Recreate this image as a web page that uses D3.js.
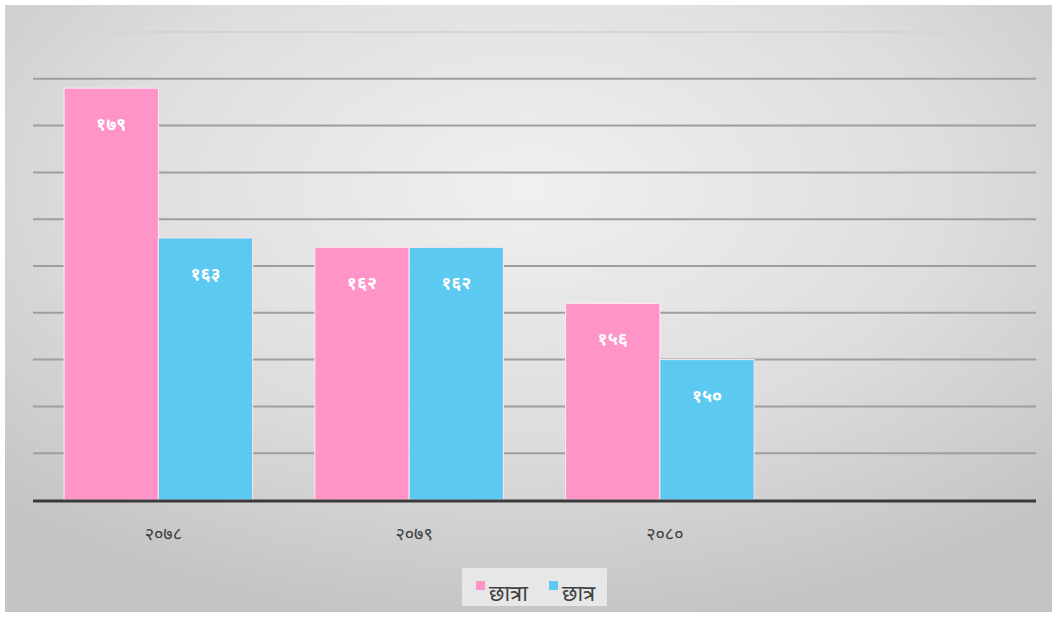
<!DOCTYPE html>
<html>
<head>
<meta charset="utf-8">
<script src="https://cdn.jsdelivr.net/npm/d3@7/dist/d3.min.js"></script>
<style>
html,body{margin:0;padding:0;background:#fff;}
svg{display:block;}
text{font-family:"Noto Sans Devanagari","Lohit Devanagari","Nirmala UI","Mangal","Noto Sans",sans-serif;}
</style>
</head>
<body>
<div id="chart"></div>
<script>
const categories = ["२०७८", "२०७९", "२०८०", ""];
const seriesNames = ["छात्रा", "छात्र"];
const girls = [179, 162, 156, null];
const boys = [163, 162, 150, null];
const girlsLabels = ["१७९", "१६२", "१५६", ""];
const boysLabels = ["१६३", "१६२", "१५०", ""];
const yTicks = [135, 140, 145, 150, 155, 160, 165, 170, 175, 180, 185];
const colors = ["#FF94C8", "#5CC9F1"];

const W = 1059, H = 618;
const svg = d3.select("#chart").append("svg").attr("width", W).attr("height", H);
const defs = svg.append("defs");
const grad = defs.append("radialGradient").attr("id", "bg")
  .attr("cx", "50%").attr("cy", "30%").attr("r", "72%");
grad.append("stop").attr("offset", "0%").attr("stop-color", "#f0f0f0");
grad.append("stop").attr("offset", "55%").attr("stop-color", "#dedede");
grad.append("stop").attr("offset", "100%").attr("stop-color", "#c4c4c4");

svg.append("rect").attr("x", 5).attr("y", 5).attr("width", 1047).attr("height", 607)
  .attr("fill", "url(#bg)");

const m = {left: 33, right: 1036, top: 32, bottom: 500};
const x0 = d3.scaleBand().domain(d3.range(categories.length)).range([m.left, m.right]).paddingInner(0.248).paddingOuter(0.124);
const x1 = d3.scaleBand().domain([0, 1]).range([0, x0.bandwidth()]);
const y = d3.scaleLinear().domain([135, 185]).range([m.bottom, m.top]);

// gridlines
svg.append("g").selectAll("line").data(yTicks.slice(1)).join("line")
  .attr("x1", m.left).attr("x2", m.right)
  .attr("y1", d => y(d)).attr("y2", d => y(d))
  .attr("stroke", (d, i) => i === yTicks.length - 2 ? "#d4d4d4" : "#9e9e9e")
  .attr("stroke-width", 2);

// bars
const series = [girls, boys];
const labels = [girlsLabels, boysLabels];
const groups = svg.append("g");
series.forEach((vals, s) => {
  const g = groups.append("g");
  vals.forEach((v, i) => {
    if (v == null) return;
    const bx = x0(i) + x1(s);
    g.append("rect")
      .attr("x", bx).attr("y", y(v))
      .attr("width", x1.bandwidth()).attr("height", y(135) - y(v))
      .attr("fill", colors[s]).attr("stroke", "#ffe6f2").attr("stroke-width", 1);
    g.append("text")
      .attr("x", bx + x1.bandwidth() / 2).attr("y", y(v) + 42)
      .attr("text-anchor", "middle").attr("fill", "#ffffff")
      .attr("font-size", 18).attr("font-weight", "bold")
      .text(labels[s][i]);
  });
});

// baseline
svg.append("line").attr("x1", m.left).attr("x2", m.right)
  .attr("y1", m.bottom + 1).attr("y2", m.bottom + 1)
  .attr("stroke", "#3a3a3a").attr("stroke-width", 3);

// x labels
svg.append("g").selectAll("text").data(categories).join("text")
  .attr("x", (d, i) => x0(i) + x0.bandwidth() / 2 + 5)
  .attr("y", 540).attr("text-anchor", "middle")
  .attr("font-size", 18).attr("fill", "#404040")
  .text(d => d);

// legend
const lg = svg.append("g");
lg.append("rect").attr("x", 462).attr("y", 568).attr("width", 145).attr("height", 38).attr("fill", "#e7e7e7");
const legX = [476, 549];
seriesNames.forEach((n, i) => {
  lg.append("rect").attr("x", legX[i]).attr("y", 581).attr("width", 9).attr("height", 9).attr("fill", colors[i]);
  lg.append("text").attr("x", legX[i] + 13).attr("y", 601).attr("font-size", 22).attr("fill", "#404040").text(n);
});
</script>
</body>
</html>
